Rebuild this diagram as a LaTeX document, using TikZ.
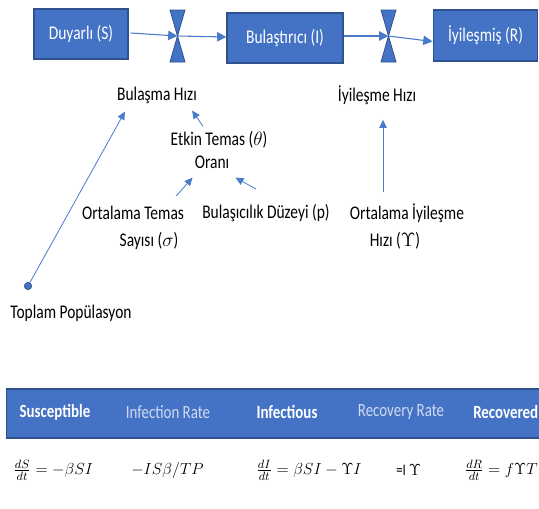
\documentclass[tikz,border=0pt]{standalone}
\usepackage{fontspec}
\setmainfont{Carlito}[FakeStretch=0.8]
\usetikzlibrary{arrows.meta}
\definecolor{boxblue}{HTML}{4472C4}
\definecolor{boxedge}{HTML}{2F528F}
\definecolor{linkblue}{HTML}{4A7BCB}
\definecolor{lightlab}{HTML}{CFDBF1}
\begin{document}
\begin{tikzpicture}[x=0.75pt,y=-0.75pt,
  stockbox/.style={draw=boxedge, fill=boxblue, line width=0.9pt, text=white, font=\fontsize{14.5}{16}\selectfont, inner sep=0},
  valveshape/.style={draw=boxedge, fill=boxblue, line width=0.6pt, line join=miter},
  lbl/.style={font=\fontsize{14.5}{16}\selectfont, inner sep=0, anchor=center},
  banlbl/.style={font=\fontsize{14}{16}\selectfont, inner sep=0, anchor=center},
  banbold/.style={banlbl, text=white, font=\fontsize{14}{16}\selectfont\bfseries},
  eqlbl/.style={font=\fontsize{12.5}{14}\selectfont, inner sep=0, anchor=west},
  flow/.style={draw=linkblue, line width=0.8pt, -{Triangle[length=7pt,width=7pt]}},
  link/.style={draw=linkblue, line width=0.6pt, -{Triangle[length=6pt,width=5.5pt]}},
  popdot/.style={circle, draw=boxedge, fill=boxblue, line width=0.5pt, minimum size=5.5pt, inner sep=0},
]
\useasboundingbox (0,0) rectangle (539,508);
\clip (0,0) rectangle (539,508);
\fill[white] (0,0) rectangle (539,508);

% stocks
\node[stockbox, minimum width=70.5pt, minimum height=37.5pt] (S) at (81,34) {Duyarlı (S)};
\node[stockbox, minimum width=87pt, minimum height=37.5pt] (I) at (285,38) {Bulaştırıcı (I)};
\node[stockbox, minimum width=78.5pt, minimum height=38.25pt] (R) at (485.5,35.5) {İyileşmiş (R)};

% valves
\coordinate (v1) at (177.5,36);
\coordinate (v2) at (388.5,36);
\foreach \v in {v1,v2}{
  \draw[valveshape] (\v) -- ++(-7.5,-26) -- ++(15,0) -- cycle;
  \draw[valveshape] (\v) -- ++(-7.5,26) -- ++(15,0) -- cycle;
}

% flows
\draw[flow] ([shift={(2,-1)}]S.east) -- (v1);
\draw[flow] (v1) -- ([shift={(0,-1)}]I.west);
\draw[flow] ([shift={(0,-2)}]I.east) -- (v2);
\draw[flow] (v2) -- ([shift={(0,6)}]R.west);

% labels
\node[lbl] (bh) at (157,95) {Bulaşma Hızı};
\node[lbl] (ih) at (377,95) {İyileşme Hızı};
\node[lbl] (et) at (219,140) {Etkin Temas ($\theta$)};
\node[lbl] (or) at (212,162) {Oranı};
\node[lbl] (ot) at (133,213) {Ortalama Temas};
\node[lbl] (ss) at (149,241) {Sayısı ($\sigma$)};
\node[lbl] (bd) at (266,213) {Bulaşıcılık Düzeyi (p)};
\node[lbl] (oi) at (407,213) {Ortalama İyileşme};
\node[lbl] (hy) at (395,241) {Hızı ($\Upsilon$)};
\node[popdot] (tp) at (28,286) {};
\node[lbl] (tpl) at (71,313) {Toplam Popülasyon};

% links
\draw[link] (tp) -- ([shift={(8,8)}]bh.south west);
\draw[link] ([shift={(-16,-5)}]et.north) -- ([shift={(-5,7)}]bh.south east);
\draw[link] ([shift={(-8,-10)}]ot.north east) -- ([shift={(-2,9)}]or.south west);
\draw[link] ([shift={(54,-15)}]bd.north west) -- ([shift={(6,9)}]or.south east);
\draw[link] ([shift={(-24,-11)}]oi.north) -- ([shift={(6,15)}]ih.south);

% banner
\node[fill=boxblue, draw=boxedge, line width=0.8pt, minimum width=404pt, minimum height=36.75pt, inner sep=0] (bn) at (275.5,413.5) {};
\node[banbold] (b1) at (55,412) {Susceptible};
\node[banlbl, text=lightlab] (b2) at (168,412) {Infection Rate};
\node[banbold] (b3) at (287,412) {Infectious};
\node[banlbl, text=lightlab] (b4) at (401,412) {Recovery Rate};
\node[banbold, anchor=west] (b5) at (473,412) {Recovered};

% equations
\node[eqlbl] (e1) at (13,470) {$\frac{dS}{dt}=-\beta SI$};
\node[eqlbl] (e2) at (131,470) {$-IS\beta/TP$};
\node[eqlbl] (e3) at (256,470) {$\frac{dI}{dt}=\beta SI-\Upsilon I$};
\node[eqlbl, font=\fontsize{12}{14}\selectfont] (e4) at (396,470) {=I $\Upsilon$};
\node[eqlbl, anchor=east] (e5) at (538,470) {$\frac{dR}{dt}=f\Upsilon T$};
\end{tikzpicture}
\end{document}
